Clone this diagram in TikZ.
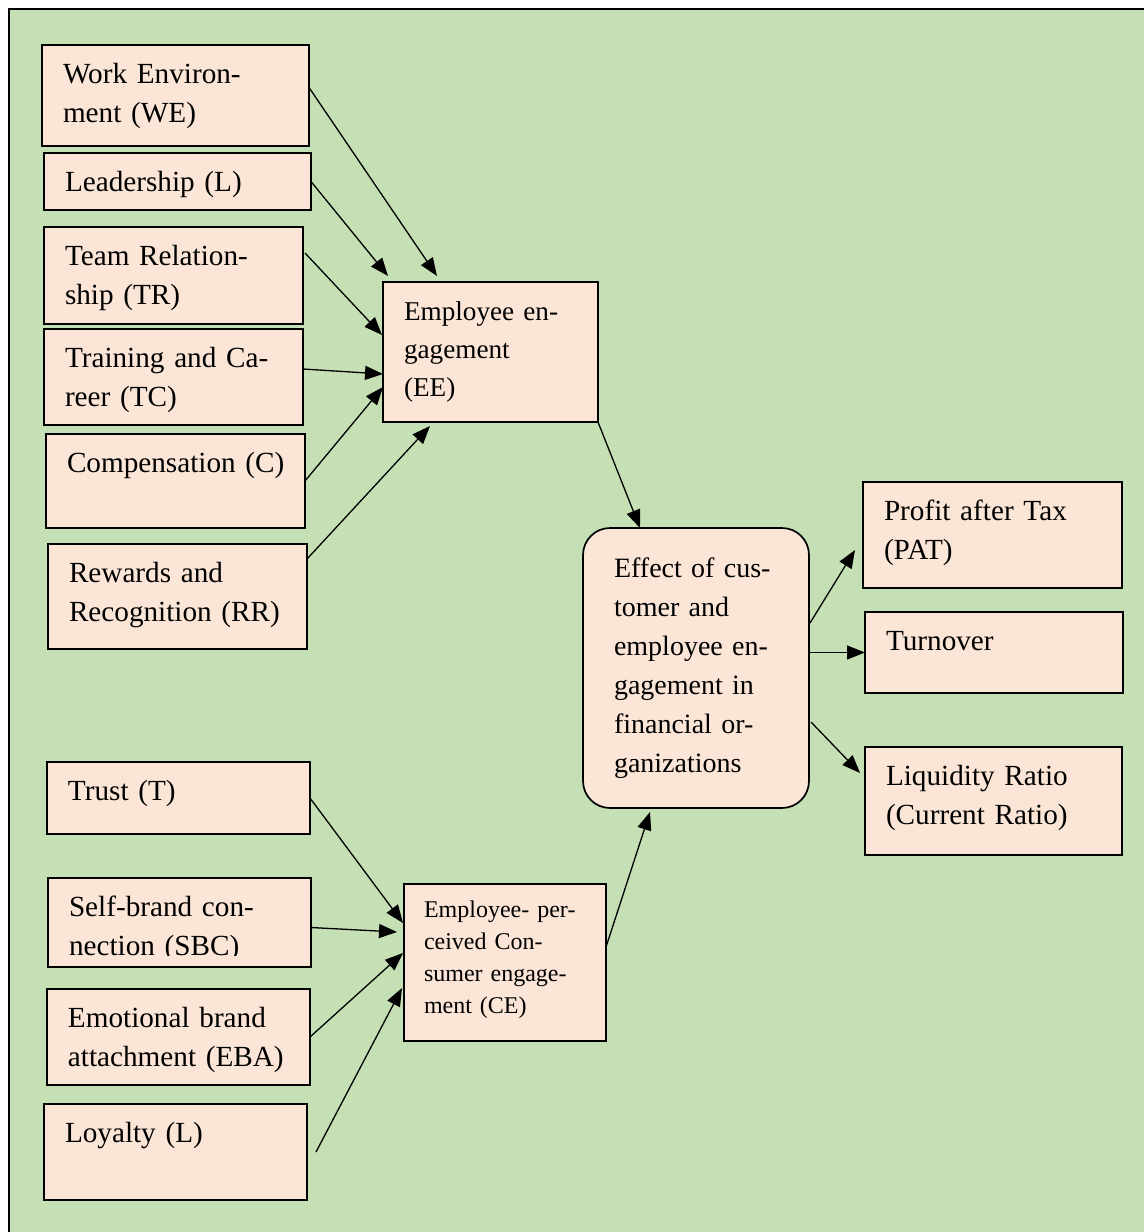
\documentclass[tikz,border=0pt]{standalone}
\usepackage{fontspec}
\setmainfont{Liberation Serif}
\usetikzlibrary{arrows.meta,calc}
\definecolor{bggreen}{HTML}{C5E0B4}
\definecolor{boxpeach}{HTML}{FBE5D6}

\begin{document}
\begin{tikzpicture}[x=0.5pt,y=-0.5pt,
  box/.style 2 args={draw, fill=boxpeach, line width=0.85pt, anchor=north west,
    inner sep=0pt, inner xsep=10.5pt, outer sep=0pt, align=left,
    font=\fontsize{14.6}{19.5}\selectfont, text height=19.25pt,
    text width=#1, text depth=#2},
  link/.style={-{Triangle[length=9pt,width=7pt]}, line width=0.65pt}]
  \clip (0,0) rectangle (1144,1232);
  \fill[white] (0,0) rectangle (1144,1232);
  \draw[fill=bggreen, line width=1pt] (9,9) rectangle (1160,1250);

  \node[box={112.5pt}{31.25pt}] (we) at (42,45) {Work Environ-\\ment (WE)};
  \node[box={112.5pt}{9.25pt}] (lead) at (44,153) {Leadership (L)};
  \node[box={108.5pt}{29.25pt}] (tr) at (44,227) {Team Relation-\\ship (TR)};
  \node[box={108.5pt}{28.75pt}] (tc) at (44,329) {Training and Ca-\\reer (TC)};
  \node[box={108.5pt}{27.75pt}] (comp) at (46,434) {\mbox{Compensation (C)}};
  \node[box={108.5pt}{33.25pt}] (rr) at (48,544) {Rewards and\\Recognition (RR)};
  \node[box={86.5pt}{50.75pt}, font=\fontsize{13.6}{19}\selectfont] (ee) at (383,282)
    {Employee en-\\gagement\\(EE)};

  \node[box={110.5pt}{16.75pt}] (trust) at (47,762) {Trust (T)};
  \node[box={110.5pt}{25.25pt}] (sbc) at (48,878) {Self-brand con-\\nection (SBC)};
  \fill[boxpeach] ($(sbc.south west)+(1,-1)$) rectangle ($(sbc.south east)+(-1,-11)$);
  \node[box={110.5pt}{28.75pt}] (eba) at (47,989) {Emotional brand\\attachment (EBA)};
  \node[box={110.5pt}{28.75pt}] (loy) at (44,1104) {Loyalty (L)};
  \node[box={81pt}{62pt}, inner xsep=10pt, text height=16.5pt,
    font=\fontsize{12}{16}\selectfont] (ce) at (404,884)
    {Employee- per-\\ceived Con-\\sumer engage-\\ment (CE)};

  \node[box={82pt}{115.5pt}, inner xsep=15.5pt, text height=24.5pt,
    font=\fontsize{14}{19.5}\selectfont, rounded corners=13.5pt] (eff) at (583,528)
    {Effect of cus-\\tomer and\\employee en-\\gagement in\\financial or-\\ganizations};

  \node[box={108.5pt}{33.75pt}] (pat) at (863,482) {Profit after Tax\\(PAT)};
  \node[box={108pt}{21.25pt}] (turn) at (865,612) {Turnover};
  \node[box={107.5pt}{34.75pt}] (liq) at (865,747) {Liquidity Ratio\\(Current Ratio)};

  \draw[link] ($(we.east)+(0,-8)$) -- ($(ee.north west)+(54,-6)$);
  \draw[link] (lead.east) -- ($(ee.north west)+(5,-6)$);
  \draw[link] ($(tr.north east)+(2,26)$) -- ($(ee.north west)+(-1,53)$);
  \draw[link] ($(tc.east)+(0,-8)$) -- ($(ee.north west)+(0,92)$);
  \draw[link] (comp.east) -- ($(ee.north west)+(0,105)$);
  \draw[link] ($(rr.north east)+(0,15)$) -- ($(ee.south west)+(47,4)$);
  \draw[link] (ee.south east) -- ($(eff.north west)+(57,0)$);

  \draw[link] (trust.east) -- ($(ce.north west)+(-1,39)$);
  \draw[link] ($(sbc.east)+(0,5)$) -- ($(ce.north west)+(-7,48)$);
  \draw[link] (eba.east) -- ($(ce.north west)+(-1,69)$);
  \draw[link] ($(loy.east)+(9,0)$) -- ($(ce.north west)+(-2,104)$);
  \draw[link] ($(ce.north east)+(0,63)$) -- ($(eff.south west)+(67,4)$);

  \draw[link] ($(eff.north east)+(1,95)$) -- ($(pat.north west)+(-8,68)$);
  \draw[link] (turn.west -| eff.east) -- (turn.west);
  \draw[link] ($(eff.north east)+(2,194)$) -- ($(liq.north west)+(-5,26)$);
\end{tikzpicture}
\end{document}
